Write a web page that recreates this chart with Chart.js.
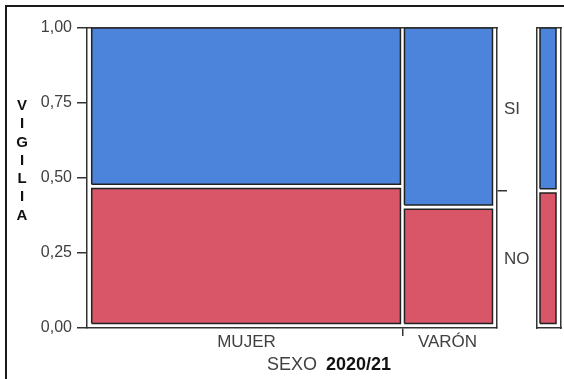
<!doctype html>
<html>
<head>
<meta charset="utf-8">
<script src="https://cdn.jsdelivr.net/npm/chart.js@4.4.1/dist/chart.umd.min.js"></script>
<style>
    body { margin: 0; background: #fff; font-family: "Liberation Sans", Arial, sans-serif; }
    #page { position: relative; width: 564px; height: 379px; overflow: hidden; }
    #frame { position: absolute; left: 5px; top: 5px; width: 600px; height: 400px;
             border-left: 2px solid #1a1a1a; border-top: 2px solid #1a1a1a; }
    canvas { position: absolute; top: 0; }
    #main { left: 0; }
    #marg { left: 530px; }
    #ytitle { position: absolute; left: 12px; top: 96px; width: 20px; text-align: center;
              font-weight: bold; font-size: 15px; line-height: 18.3px; color: #111; }
    #xtitle { position: absolute; left: 267px; top: 355px; font-size: 18px; line-height: 18px;
              color: #404040; white-space: nowrap; }
    #xtitle b { color: #111; margin-left: 4px; }
</style>
</head>
<body>
<div id="page">
    <div id="frame"></div>
    <canvas id="main" width="530" height="379"></canvas>
    <canvas id="marg" width="34" height="379"></canvas>
    <div id="ytitle">V<br>I<br>G<br>I<br>L<br>I<br>A</div>
    <div id="xtitle">SEXO <b>2020/21</b></div>
</div>
<script>
// data
const categories = ['MUJER', 'VARÓN'];
const colShare = [0.776, 0.224];     // width of each SEXO column
const noShare = [0.472, 0.403];      // share of NO inside each column
const rowLabels = ['SI', 'NO'];
const totalNo = 0.457;               // marginal share of NO
const yTicks = [0, 0.25, 0.5, 0.75, 1];

const BLUE = 'rgb(76, 132, 219)';
const RED = 'rgb(217, 85, 104)';
const EDGE = '#222';
const AXIS = '#333';
const FONT = '"Liberation Sans", Arial, sans-serif';
// small gaps between cells, in data units
const GAP_X = 0.005, GAP_Y = 0.007, BASE_Y = 0.015;

function rect(x0, x1, y0, y1) {
    return [{x: x0, y: y0}, {x: x0, y: y1}, {x: x1, y: y1}, {x: x1, y: y0}, {x: x0, y: y0}];
}
function cell(x0, x1, y0, y1, color) {
    return {
        data: rect(x0, x1, y0, y1),
        showLine: true,
        fill: 'shape',
        backgroundColor: color,
        borderColor: EDGE,
        borderWidth: 1.5,
        pointRadius: 0,
        tension: 0
    };
}

const datasets = [];
let left = 0;
const xTickVals = [], xTickLabels = [];
categories.forEach((c, i) => {
    const right = left + colShare[i];
    const x0 = i === 0 ? left + 0.003 : left + GAP_X;
    const x1 = i === categories.length - 1 ? right : right - GAP_X;
    datasets.push(cell(x0, x1, BASE_Y, noShare[i] - GAP_Y, RED));
    datasets.push(cell(x0, x1, noShare[i] + GAP_Y, 1, BLUE));
    xTickVals.push(left + colShare[i] / 2);
    xTickLabels.push(c);
    if (i < categories.length - 1) {
        xTickVals.push(right);
        xTickLabels.push('');
    }
    left = right;
});

const y2Vals = [totalNo / 2, totalNo, (totalNo + 1) / 2];
const y2Labels = [rowLabels[1], '', rowLabels[0]];

const setTicks = vals => scale => { scale.ticks = vals.map(v => ({value: v})); };
const onlyMid = ctx => ctx.index === 1 ? AXIS : 'rgba(0,0,0,0)';

new Chart(document.getElementById('main'), {
    type: 'scatter',
    data: { datasets: datasets },
    options: {
        responsive: false,
        animation: false,
        layout: { padding: { top: 28, left: 0, right: 0, bottom: 0 } },
        plugins: { legend: { display: false }, tooltip: { enabled: false } },
        scales: {
            x: {
                type: 'linear', position: 'bottom', min: -0.0087, max: 1.0112,
                afterBuildTicks: setTicks(xTickVals),
                afterFit: s => { s.height = 51; },
                ticks: { autoSkip: false, maxRotation: 0, padding: -4, color: '#404040',
                         font: { family: FONT, size: 17 },
                         callback: (v, i) => xTickLabels[i] },
                grid: { drawOnChartArea: false, tickLength: 8, lineWidth: 1.5, color: onlyMid },
                border: { color: AXIS, width: 1.5 }
            },
            y: {
                type: 'linear', position: 'left', min: 0, max: 1,
                afterBuildTicks: setTicks(yTicks),
                afterFit: s => { s.width = 87; },
                ticks: { autoSkip: false, padding: 5, color: '#404040',
                         font: { family: FONT, size: 16 },
                         callback: v => v.toFixed(2).replace('.', ',') },
                grid: { drawOnChartArea: false, tickLength: 10, lineWidth: 1.5, color: AXIS },
                border: { color: AXIS, width: 1.5 }
            },
            y2: {
                type: 'linear', position: 'right', min: 0, max: 1,
                afterBuildTicks: setTicks(y2Vals),
                afterFit: s => { s.width = 33; },
                ticks: { autoSkip: false, padding: -3, color: '#404040',
                         font: { family: FONT, size: 17 },
                         callback: (v, i) => y2Labels[i] },
                grid: { drawOnChartArea: false, tickLength: 10, lineWidth: 1.5, color: onlyMid },
                border: { color: AXIS, width: 1.5 }
            },
            x2: {
                type: 'linear', position: 'top',
                afterFit: s => { s.height = 0; },
                ticks: { display: false },
                grid: { display: false },
                border: { color: AXIS, width: 1.5 }
            }
        }
    }
});

// marginal bar for VIGILIA
const margSets = [
    cell(0, 1, BASE_Y, totalNo - GAP_Y, RED),
    cell(0, 1, totalNo + GAP_Y, 1, BLUE)
];
const frameAxis = (pos, size) => ({
    type: 'linear', position: pos,
    afterFit: s => { if (pos === 'top' || pos === 'bottom') s.height = size; else s.width = size; },
    ticks: { display: false },
    grid: { display: false },
    border: { color: AXIS, width: 1.5 }
});
const mx = frameAxis('bottom', 0); mx.min = -0.1875; mx.max = 1.3125;
const my = frameAxis('left', 0); my.min = 0; my.max = 1;

new Chart(document.getElementById('marg'), {
    type: 'scatter',
    data: { datasets: margSets },
    options: {
        responsive: false,
        animation: false,
        layout: { padding: { top: 28, left: 7, right: 3, bottom: 51 } },
        plugins: { legend: { display: false }, tooltip: { enabled: false } },
        scales: {
            x: mx,
            y: my,
            x2: frameAxis('top', 0),
            y2: frameAxis('right', 0)
        }
    }
});
</script>
</body>
</html>
